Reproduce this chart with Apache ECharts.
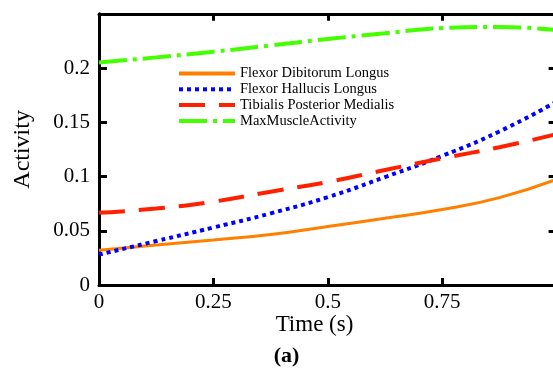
<!DOCTYPE html>
<html>
<head>
<meta charset="utf-8">
<script src="https://cdn.jsdelivr.net/npm/echarts@6/dist/echarts.min.js"></script>
<style>html,body{margin:0;padding:0;background:#fff}#c{width:553px;height:369px}</style>
</head>
<body>
<div id="c"></div>
<script>
const times = [0, 0.125, 0.25, 0.375, 0.5, 0.625, 0.75, 0.875, 1.0];
const seriesNames = ['Flexor Dibitorum Longus', 'Flexor Hallucis Longus', 'Tibialis Posterior Medialis', 'MaxMuscleActivity'];
const fdl = [0.032, 0.0368, 0.0415, 0.0465, 0.054, 0.0615, 0.0695, 0.0805, 0.0975];
const fhl = [0.028, 0.0405, 0.053, 0.066, 0.081, 0.0995, 0.119, 0.1415, 0.169];
const tpm = [0.0665, 0.0705, 0.0768, 0.086, 0.095, 0.106, 0.1168, 0.127, 0.139];
const maxAct = [0.205, 0.2098, 0.215, 0.2208, 0.2267, 0.232, 0.2368, 0.2378, 0.235];
const xTicks = [0, 0.25, 0.5, 0.75, 1];
const yTicks = [0, 0.05, 0.1, 0.15, 0.2];
const xName = 'Time (s)';
const yName = 'Activity';
const panelLabel = '(a)';

const FONT = 'Liberation Serif';
const pair = a => a.map((v, i) => [times[i], v]);
const styles = [
  {color: '#ff8000', width: 3, type: 'solid'},
  {color: '#0000ff', width: 4, type: [4, 4]},
  {color: '#ff2000', width: 4, type: [26, 14]},
  {color: '#44ff00', width: 4, type: [28, 6, 4, 6]}
];
const datas = [fdl, fhl, tpm, maxAct];

const chart = echarts.init(document.getElementById('c'));
const axisLine = {show: true, onZero: false, lineStyle: {color: '#000', width: 3}};
const tick = len => ({show: true, inside: true, length: len, lineStyle: {color: '#000', width: 3}});
chart.setOption({
  animation: false,
  grid: {left: 99, top: 13.75, height: 271.25, width: 457.6, containLabel: false, outerBoundsMode: 'none'},
  legend: {
    orient: 'vertical', left: 177, top: 66, padding: 0,
    itemWidth: 56, itemHeight: 14, itemGap: 0.8,
    itemStyle: {opacity: 0},
    lineStyle: {width: 4},
    textStyle: {fontFamily: FONT, fontSize: 14.5, lineHeight: 15, color: '#000'},
    data: seriesNames
  },
  xAxis: [{
    type: 'value', min: 0, max: 1, interval: 0.25, position: 'bottom',
    axisLine: axisLine, axisTick: tick(7), splitLine: {show: false},
    axisLabel: {fontFamily: FONT, fontSize: 21, color: '#000', margin: 7,
      formatter: v => xTicks.includes(v) ? String(v) : ''}
  }, {
    type: 'value', min: 0, max: 1, interval: 0.25, position: 'top',
    axisLine: axisLine, axisTick: tick(7), axisLabel: {show: false}, splitLine: {show: false}
  }],
  yAxis: [{
    type: 'value', min: 0, max: 0.25, interval: 0.05, position: 'left',
    axisLine: axisLine, axisTick: tick(8), splitLine: {show: false},
    axisLabel: {fontFamily: FONT, fontSize: 21, color: '#000', margin: 9,
      formatter: v => yTicks.some(t => Math.abs(t - v) < 1e-9) ? String(+v.toFixed(2)) : ''},
    name: yName, nameLocation: 'middle', nameGap: 64,
    nameTextStyle: {fontFamily: FONT, fontSize: 24, color: '#000'}
  }, {
    type: 'value', min: 0, max: 0.25, interval: 0.05, position: 'right',
    axisLine: axisLine, axisTick: tick(8), axisLabel: {show: false}, splitLine: {show: false}
  }],
  graphic: [{
    type: 'text', x: 314.5, y: 313,
    style: {text: xName, font: '23px "Liberation Serif"', fill: '#000', align: 'center', verticalAlign: 'top'}
  }, {
    type: 'text', x: 286.5, y: 345,
    style: {text: panelLabel, font: 'bold 22px "Liberation Serif"', fill: '#000', align: 'center', verticalAlign: 'top'}
  }],
  series: datas.map((d, i) => ({
    name: seriesNames[i], type: 'line', smooth: true, showSymbol: false, symbol: 'none',
    data: pair(d), lineStyle: styles[i], itemStyle: {color: styles[i].color}, z: 2 + i
  }))
});
</script>
</body>
</html>
